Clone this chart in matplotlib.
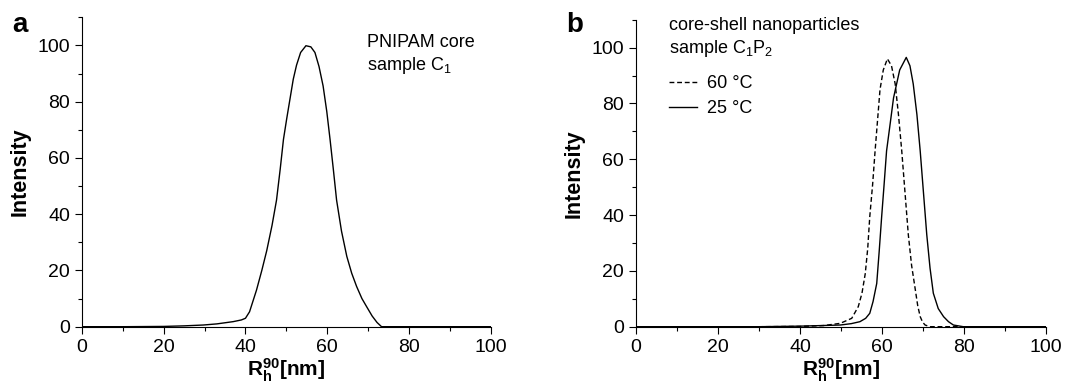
import numpy as np
import matplotlib
matplotlib.use("Agg")
import matplotlib.pyplot as plt
from matplotlib.ticker import MultipleLocator

plt.rcParams['font.family'] = ['Liberation Sans', 'DejaVu Sans']
plt.rcParams['mathtext.fontset'] = 'custom'
plt.rcParams['mathtext.rm'] = 'Liberation Sans'
plt.rcParams['mathtext.it'] = 'Liberation Sans'
plt.rcParams['mathtext.bf'] = 'Liberation Sans:bold'

# panel a: PNIPAM core, sample C1
core_x = [0, 10, 20, 25, 29.7, 33, 37, 39, 40, 41, 42.7, 44, 45.2, 46.5, 47.6, 48.5, 49.3,
          50.1, 50.9, 51.7, 52.5, 53.5, 54.8, 56, 57, 58, 59, 59.9, 60.7, 61.5, 62.3, 63.5,
          64.8, 66, 67.2, 68.5, 69.7, 71, 72.2, 73.3, 80, 100]
core_y = [0, 0, 0.1, 0.3, 0.6, 1.0, 1.8, 2.4, 3.0, 5.3, 13, 20, 27, 36, 45, 56, 66.6,
          74, 81, 88, 93, 97.5, 99.9, 99.5, 97.5, 92.5, 85.6, 76.5, 66.6, 56, 45, 34,
          25, 19, 14.3, 10, 7, 3.8, 1.5, 0, 0, 0]

# panel b: core-shell nanoparticles, sample C1P2
hot_x = [0, 30, 40, 45.7, 49.8, 52.6, 54.2, 55.1, 55.9, 56.5, 57, 57.7, 58.3, 58.9, 59.5,
         60.3, 61.3, 62.3, 63.2, 64, 64.8, 65.6, 66.4, 67.2, 68, 68.7, 69.3, 69.9, 70.5,
         71.7, 80, 100]
hot_y = [0, 0, 0.1, 0.4, 1.2, 3, 7.2, 12, 19, 28, 39.4, 51, 63, 74, 85,
         92, 96, 93.5, 87, 76, 63, 48, 33, 22, 14.3, 7.5, 3.6, 1.6, 0.6,
         0, 0, 0]
cold_x = [0, 30, 40, 45, 49.8, 52.5, 54.6, 56, 57, 57.8, 58.7, 59.3, 59.9, 60.5, 61.1,
          62, 62.8, 64.3, 65.9, 66.8, 67.6, 68.5, 69.3, 70.1, 70.9, 71.7, 72.5, 73.7,
          75, 76.2, 77.4, 79.8, 100]
cold_y = [0, 0, 0.2, 0.4, 0.6, 1.1, 1.8, 3.0, 4.8, 9, 15.5, 27, 39.4, 51, 63,
          73, 82, 92, 96.5, 93.5, 87, 76, 63, 48, 33, 21, 12, 6.5,
          3.6, 1.8, 0.6, 0, 0]

fig = plt.figure(figsize=(10.76, 3.9), dpi=100)
ax1 = fig.add_axes([0.0762, 0.1623, 0.3798, 0.7933])
ax2 = fig.add_axes([0.5911, 0.1623, 0.3811, 0.7871])

for ax in (ax1, ax2):
    ax.set_xlim(0, 100)
    ax.set_ylim(0, 110)
    ax.spines['top'].set_visible(False)
    ax.spines['right'].set_visible(False)
    ax.spines['left'].set_linewidth(0.8)
    ax.spines['bottom'].set_linewidth(0.8)
    ax.xaxis.set_major_locator(MultipleLocator(20))
    ax.xaxis.set_minor_locator(MultipleLocator(10))
    ax.yaxis.set_major_locator(MultipleLocator(20))
    ax.yaxis.set_minor_locator(MultipleLocator(10))
    ax.tick_params(which='major', direction='out', length=5, width=0.8, labelsize=14)
    ax.tick_params(which='minor', direction='out', length=3, width=0.8)
    ax.set_xlabel(r'$\mathbf{R_h^{90}}$[nm]', fontsize=15, fontweight='bold', labelpad=1)
    ax.set_ylabel('Intensity', fontsize=15.5, fontweight='bold', labelpad=5)

ax1.plot(core_x, core_y, '-k', linewidth=1.0)
ax1.text(69.7, 96.5, 'PNIPAM core\nsample C$_1$', fontsize=13, va='center',
         linespacing=1.25)

ax2.plot(hot_x, hot_y, '--k', linewidth=1.0, dashes=(3.5, 2), label='60 °C')
ax2.plot(cold_x, cold_y, '-k', linewidth=1.0, label='25 °C')
ax2.text(8.1, 103.5, 'core-shell nanoparticles\nsample C$_1$P$_2$', fontsize=13,
         va='center', linespacing=1.25)
ax2.legend(loc='upper left', bbox_to_anchor=(0.08, 0.82), frameon=False, fontsize=13,
           handlelength=1.55, handletextpad=0.55, labelspacing=0.45, borderaxespad=0,
           borderpad=0)

fig.text(0.011, 0.935, 'a', fontsize=20, fontweight='bold', va='center')
fig.text(0.526, 0.935, 'b', fontsize=20, fontweight='bold', va='center')

fig.savefig('out.png', dpi=100)
